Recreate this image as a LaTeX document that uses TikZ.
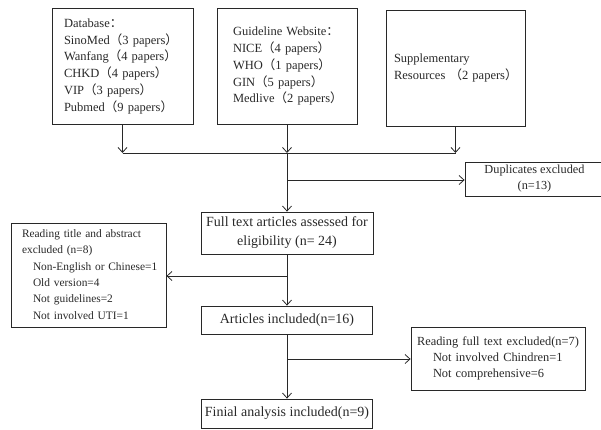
\documentclass[tikz,border=0pt]{standalone}
\usepackage{fontspec}
\setmainfont{Liberation Serif}
\newfontfamily\cjk{Noto Sans CJK SC}
\usetikzlibrary{arrows.meta}
\newcommand{\lpw}{{\cjk （}}
\newcommand{\rpw}{{\cjk ）}}
\newcommand{\colw}{{\cjk ：}}
\newcommand{\ind}{\hspace*{11pt}}
\definecolor{ink}{RGB}{40,40,40}

\begin{document}
\begin{tikzpicture}[x=1pt,y=-1pt]
		\tikzset{box/.style = {draw=ink, text=ink, line width=0.8pt, inner ysep=0pt}}
		\tikzset{edge/.style = {-{Straight Barb[length=5pt,width=9pt]}, draw=ink, line width=0.8pt}}
		\tikzset{link/.style = {draw=ink, line width=0.8pt}}
		
		\useasboundingbox (0,0) rectangle (601,429);
		
		\node[box, minimum width=141, minimum height=116, inner xsep=12, text width=117, align=left,
		      font=\fontsize{12.5}{16.8}\selectfont] (db) at (122.5,66)
		      {\begin{tabular}{@{}l@{}}Database\colw\\SinoMed\lpw 3 papers\rpw\\Wanfang\lpw 4 papers\rpw\\CHKD\lpw 4 papers\rpw\\VIP\lpw 3 papers\rpw\\Pubmed\lpw 9 papers\rpw\end{tabular}};
		\node[box, minimum width=140, minimum height=116, inner xsep=16, text width=108, align=left,
		      font=\fontsize{12.5}{16.8}\selectfont] (gl) at (287,66)
		      {\begin{tabular}{@{}l@{}}Guideline Website\colw\\NICE\lpw 4 papers\rpw\\WHO\lpw 1 papers\rpw\\GIN\lpw 5 papers\rpw\\Medlive\lpw 2 papers\rpw\end{tabular}};
		\node[box, minimum width=139, minimum height=116, inner xsep=8, text width=123, align=left,
		      font=\fontsize{12.5}{17}\selectfont] (sr) at (455.5,68)
		      {\begin{tabular}{@{}l@{}}Supplementary\\Resources\ \lpw 2 papers\rpw\end{tabular}};
		\node[box, minimum width=139, minimum height=34, align=center,
		      font=\fontsize{12.3}{16}\selectfont] (du) at (534.5,179)
		      {Duplicates excluded\\(n=13)};
		\node[box, minimum width=172, minimum height=42, align=center,
		      font=\fontsize{14}{19}\selectfont] (ft) at (287,233)
		      {Full text articles assessed for\\eligibility (n= 24)};
		\node[box, minimum width=155, minimum height=104, inner xsep=11, text width=133, align=left,
		      font=\fontsize{11.4}{16.3}\selectfont] (rt) at (88.5,275)
		      {\begin{tabular}{@{}l@{}}Reading title and abstract\\excluded (n=8)\\\ind Non-English or Chinese=1\\\ind Old version=4\\\ind Not guidelines=2\\\ind Not involved UTI=1\end{tabular}};
		\node[box, minimum width=171, minimum height=28, align=center,
		      font=\fontsize{14}{19}\selectfont] (art) at (287,320)
		      {Articles included(n=16)};
		\node[box, minimum width=174, minimum height=63, inner xsep=6, text width=162, align=left,
		      font=\fontsize{12.4}{16}\selectfont] (rf) at (498,358.5)
		      {\begin{tabular}{@{}l@{}}Reading full text excluded(n=7)\\\hspace*{16pt}Not involved Chindren=1\\\hspace*{16pt}Not comprehensive=6\end{tabular}};
		\node[box, minimum width=168, minimum height=29, align=center,
		      font=\fontsize{14}{19}\selectfont] (fin) at (287,413.5)
		      {Finial analysis included(n=9)};
		
		\coordinate (merge) at (287,153);
		\coordinate (dup) at (287,180);
		\coordinate (tia) at (287,276);
		\coordinate (rft) at (287,359);
		
		\draw[edge] (db.south) to (db.south |- merge);
		\draw[edge] (gl.south) to (merge);
		\draw[edge] (sr.south) to (sr.south |- merge);
		\draw[link] (db.south |- merge) to (sr.south |- merge);
		\draw[edge] (merge) to (ft.north);
		\draw[edge] (dup) to (dup -| du.west);
		\draw[edge] (ft.south) to (art.north);
		\draw[edge] (tia) to (tia -| rt.east);
		\draw[edge] (art.south) to (fin.north);
		\draw[edge] (rft) to (rft -| rf.west);
\end{tikzpicture}
\end{document}
